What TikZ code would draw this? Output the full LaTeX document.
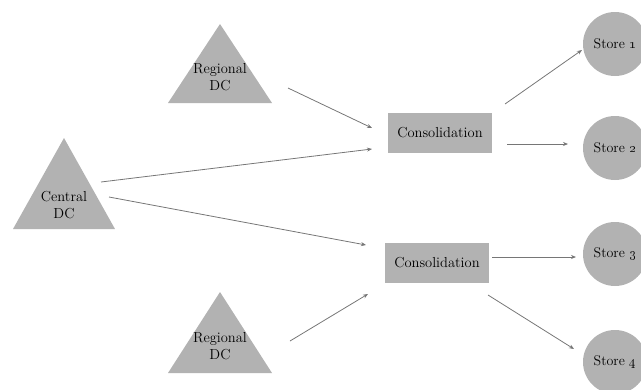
\documentclass[tikz,border=0pt]{standalone}
\usetikzlibrary{arrows.meta}
\definecolor{shapegray}{RGB}{178,178,178}
\definecolor{linegray}{RGB}{118,118,118}
\begin{document}
\begin{tikzpicture}[x=1pt,y=-1pt,
  lbl/.style={font=\fontsize{14.5}{16.5}\selectfont, align=center, inner sep=0pt},
  dcshape/.style={fill=shapegray, draw=none},
  hub/.style={fill=shapegray, draw=none, minimum width=104pt, minimum height=40pt,
    inner sep=0pt, font=\fontsize{14.5}{16.5}\selectfont},
  store/.style={circle, fill=shapegray, draw=none, minimum size=64pt, inner sep=0pt,
    font=\fontsize{14}{16}\selectfont},
  link/.style={draw=linegray, line width=0.8pt, -{Stealth[length=5pt,width=4pt]}}]

\useasboundingbox (0,0) rectangle (641,389);

% distribution centres (triangles)
\fill[dcshape] (220,24) -- (272,103) -- (168,103) -- cycle;
\node[lbl] (rdtop) at (220,77) {Regional\\DC};

\fill[dcshape] (64,138) -- (115,229) -- (13,229) -- cycle;
\node[lbl] (central) at (64,205) {Central\\DC};

\fill[dcshape] (220,292) -- (272,373) -- (168,373) -- cycle;
\node[lbl] (rdbot) at (220,346) {Regional\\DC};

% consolidation points
\node[hub] (cons1) at (440,133) {Consolidation};
\node[hub] (cons2) at (437,263) {Consolidation};

% stores
\node[store] (s1) at (615,44) {Store \oldstylenums{1}};
\node[store] (s2) at (615,148) {Store \oldstylenums{2}};
\node[store] (s3) at (615,254) {Store \oldstylenums{3}};
\node[store] (s4) at (615,362) {Store \oldstylenums{4}};

% connector end points
\coordinate (rdtop-o) at (288,88);
\coordinate (cons1-i1) at (372,128);
\coordinate (central-o1) at (101,182);
\coordinate (cons1-i2) at (372,149);
\coordinate (central-o2) at (109,197);
\coordinate (cons2-i1) at (366,245);
\coordinate (rdbot-o) at (290,341);
\coordinate (cons2-i2) at (368,294);
\coordinate (cons1-o1) at (505,104);
\coordinate (s1-i) at (582,50);
\coordinate (cons1-o2) at (507,144);
\coordinate (s2-i) at (568,144);
\coordinate (cons2-o1) at (492,257);
\coordinate (s3-i) at (576,257);
\coordinate (cons2-o2) at (488,295);
\coordinate (s4-i) at (574,349);

\draw[link] (rdtop-o) -- (cons1-i1);
\draw[link] (central-o1) -- (cons1-i2);
\draw[link] (central-o2) -- (cons2-i1);
\draw[link] (rdbot-o) -- (cons2-i2);
\draw[link] (cons1-o1) -- (s1-i);
\draw[link] (cons1-o2) -- (s2-i);
\draw[link] (cons2-o1) -- (s3-i);
\draw[link] (cons2-o2) -- (s4-i);
\end{tikzpicture}
\end{document}
